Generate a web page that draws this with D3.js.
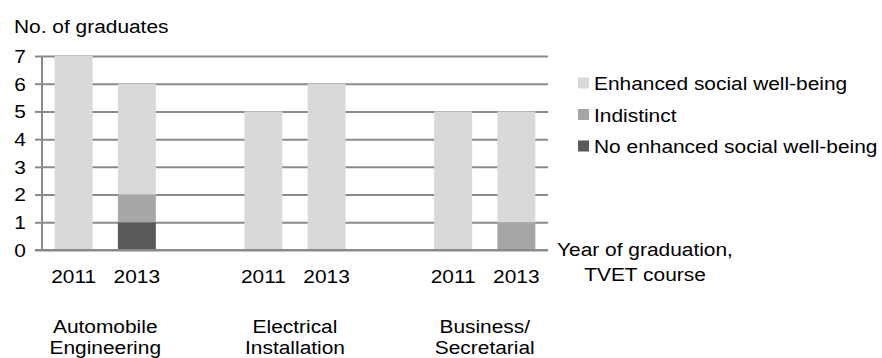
<!DOCTYPE html>
<html>
<head>
<meta charset="utf-8">
<script src="https://cdn.jsdelivr.net/npm/d3@7"></script>
<style>
  html, body { margin: 0; padding: 0; background: #fff; }
  svg text { font-family: "Liberation Sans", Arial, Helvetica, sans-serif; fill: #000; }
</style>
</head>
<body>
<svg id="chart" width="882" height="358"></svg>
<script>
// Graduates per TVET course and year of graduation, by social well-being outcome
const years = ["2011", "2013", "", "2011", "2013", "", "2011", "2013"];
const courses = [["Automobile", "Engineering"], ["Electrical", "Installation"], ["Business/", "Secretarial"]];
const courseSlots = [[0, 1], [3, 4], [6, 7]];
const seriesNames = ["No enhanced social well-being", "Indistinct", "Enhanced social well-being"];
const noEnhanced = [0, 1, null, 0, 0, null, 0, 0];
const indistinct = [0, 1, null, 0, 0, null, 0, 1];
const enhanced   = [7, 4, null, 5, 6, null, 5, 4];
const yTicks = [0, 1, 2, 3, 4, 5, 6, 7];
const seriesColors = ["#595959", "#a6a6a6", "#d9d9d9"];

const svg = d3.select("#chart");
const FONT = 19, XSTRETCH = 1.1;
const gridColor = "#8a8a8a";

// horizontally stretched label helper
function label(g, x, y, txt, anchor) {
  return g.append("text")
    .attr("transform", `translate(${x},${y}) scale(${XSTRETCH},1)`)
    .attr("text-anchor", anchor || "start")
    .style("font-size", FONT + "px")
    .text(txt);
}

const plot = { left: 42, right: 548, top: 56, bottom: 250 };

const x = d3.scaleBand()
  .domain(d3.range(years.length))
  .range([plot.left, plot.right])
  .paddingInner(0.4)
  .paddingOuter(0.2);

const y = d3.scaleLinear()
  .domain([0, 7])
  .range([plot.bottom, plot.top]);

// horizontal gridlines with left tick marks
const grid = svg.append("g")
  .attr("transform", `translate(${plot.left},0)`)
  .call(d3.axisLeft(y).tickValues(yTicks).tickSizeInner(-(plot.right - plot.left)).tickSizeOuter(0).tickFormat(""));
grid.select(".domain").remove();
grid.selectAll("line").attr("stroke", gridColor).attr("stroke-width", 2);

const ticks = svg.append("g")
  .attr("transform", `translate(${plot.left},0)`)
  .call(d3.axisLeft(y).tickValues(yTicks).tickSize(7).tickFormat(""));
ticks.select(".domain").remove();
ticks.selectAll("line").attr("stroke", gridColor).attr("stroke-width", 2);

// y tick labels
const yLab = svg.append("g");
yTicks.forEach(v => label(yLab, 26, y(v) + 6.8, String(v), "end"));

// stacked bars
const rows = years.map((yr, i) => ({ i, a: noEnhanced[i], b: indistinct[i], c: enhanced[i] }))
  .filter(d => d.c !== null);
const stack = d3.stack().keys(["a", "b", "c"]);
const layers = stack(rows);
svg.append("g").selectAll("g")
  .data(layers)
  .join("g")
  .attr("fill", (d, k) => seriesColors[k])
  .selectAll("rect")
  .data(d => d.filter(s => s[1] > s[0]))
  .join("rect")
  .attr("x", s => x(s.data.i))
  .attr("width", x.bandwidth())
  .attr("y", s => y(s[1]))
  .attr("height", s => y(s[0]) - y(s[1]));

// axis lines
svg.append("line")
  .attr("x1", plot.left).attr("x2", plot.left)
  .attr("y1", y(7)).attr("y2", y(0))
  .attr("stroke", gridColor).attr("stroke-width", 2);
svg.append("line")
  .attr("x1", plot.left - 7).attr("x2", plot.right)
  .attr("y1", y(0)).attr("y2", y(0))
  .attr("stroke", gridColor).attr("stroke-width", 2);

// year labels
const xl = svg.append("g");
years.forEach((yr, i) => { if (yr) label(xl, x(i) + x.bandwidth() / 2, 283, yr, "middle"); });

// course labels, centred under each pair of bars
courses.forEach((lines, k) => {
  const [s0, s1] = courseSlots[k];
  const cx = (x(s0) + x(s1) + x.bandwidth()) / 2;
  lines.forEach((t, j) => label(xl, cx, 332.5 + j * 21, t, "middle"));
});

// axis titles
label(svg, 14, 33, "No. of graduates", "start");
label(svg, 645, 256, "Year of graduation,", "middle");
label(svg, 645, 281, "TVET course", "middle");

// legend (top-down: light, mid, dark)
const legend = svg.append("g");
[2, 1, 0].forEach((k, r) => {
  const cy = 83 + r * 31.5;
  legend.append("rect")
    .attr("x", 578).attr("y", cy - 5.5)
    .attr("width", 11).attr("height", 11)
    .attr("fill", seriesColors[k]);
  label(legend, 594, cy + 7, seriesNames[k], "start");
});
</script>
</body>
</html>
